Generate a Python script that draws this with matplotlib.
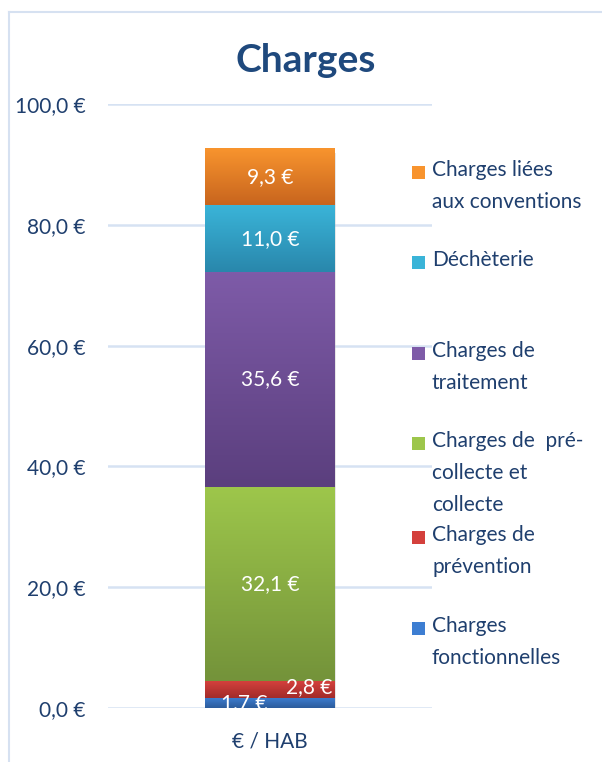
import numpy as np
import matplotlib.pyplot as plt
from matplotlib.colors import LinearSegmentedColormap
from matplotlib.lines import Line2D
from matplotlib.patches import Rectangle

plt.rcParams['font.family'] = ['Lato', 'DejaVu Sans']

# data, bottom to top of the stack
categories = ['Charges\nfonctionnelles', 'Charges de\nprévention', 'Charges de  pré-\ncollecte et\ncollecte',
              'Charges de\ntraitement', 'Déchèterie', 'Charges liées\naux conventions']
values = [1.7, 2.8, 32.1, 35.6, 11.0, 9.3]
top_colors = ['#3D7ED2', '#D4403C', '#9DC64B', '#7E5BA8', '#3AB4D8', '#F8942E']
bottom_colors = ['#2C5C9C', '#A22C2A', '#74933A', '#5B3F7E', '#2987AC', '#C8651E']
x_label = '€ / HAB'
y_ticks = [0, 20, 40, 60, 80, 100]

txt_col = '#1F3F6E'
W, H = 602, 762
fig = plt.figure(figsize=(W / 100, H / 100), dpi=100)

# chart border (left and top only visible)
fig.add_artist(Line2D([9 / W, 9 / W], [0, 1 - 12 / H], color='#D6E1F1', lw=1.5))
fig.add_artist(Line2D([9 / W, 1], [1 - 12 / H, 1 - 12 / H], color='#D6E1F1', lw=1.5))

ax = fig.add_axes([108 / W, (H - 708) / H, 324 / W, 604 / H])
ax.set_xlim(-0.5, 0.5)
ax.set_ylim(0, 100)
for s in ax.spines.values():
    s.set_visible(False)
for t in y_ticks:
    ax.axhline(t, color='#D6E2F3', lw=1.8, zorder=0)
ax.set_yticks(y_ticks)
ax.set_yticklabels([f'{t:.1f} €'.replace('.', ',') for t in y_ticks], fontsize=15, color=txt_col)
ax.tick_params(axis='y', length=0, pad=16)
ax.set_xticks([0])
ax.set_xticklabels([x_label], fontsize=15, color=txt_col)
ax.tick_params(axis='x', length=0, pad=17)

bw = 0.4
bottom = 0.0
for i, v in enumerate(values):
    cmap = LinearSegmentedColormap.from_list(f'g{i}', [bottom_colors[i], top_colors[i]])
    grad = np.linspace(1, 0, 64).reshape(-1, 1)
    ax.imshow(grad, cmap=cmap, aspect='auto', extent=(-bw / 2, bw / 2, bottom, bottom + v),
              vmin=0, vmax=1, zorder=2, interpolation='bilinear')
    bottom += v
ax.add_patch(Rectangle((-bw / 2 + 0.005, -0.6), bw, bottom, facecolor='#BBBBBB', alpha=0.35, zorder=1, lw=0))
ax.set_xlim(-0.5, 0.5)
ax.set_ylim(0, 100)

# value labels
bottom = 0.0
offsets = [(-0.08, 0), (0.12, 0.3), (0, 0), (0, 0), (0, 0), (0, 0)]
for i, v in enumerate(values):
    ox, oy = offsets[i]
    ax.text(ox, bottom + v / 2 + oy, f'{v:.1f} €'.replace('.', ','), ha='center', va='center',
            fontsize=15, color='white', zorder=5)
    bottom += v

fig.text(306 / W, 1 - 60 / H, 'Charges', ha='center', va='center', fontsize=28,
         fontweight='bold', color='#1F497D')

# legend, top entry first
first_lines = [172, 262, 353, 443, 537, 628]
for j, i in enumerate(range(len(values) - 1, -1, -1)):
    yc = first_lines[j]
    fig.add_artist(Rectangle((412 / W, 1 - (yc + 6.5) / H), 13 / W, 13 / H,
                             facecolor=top_colors[i], edgecolor='none'))
    fig.text(432 / W, 1 - (yc - 12) / H, categories[i], ha='left', va='top', fontsize=15,
             color=txt_col, linespacing=1.75)

fig.savefig('out.png', dpi=100)
